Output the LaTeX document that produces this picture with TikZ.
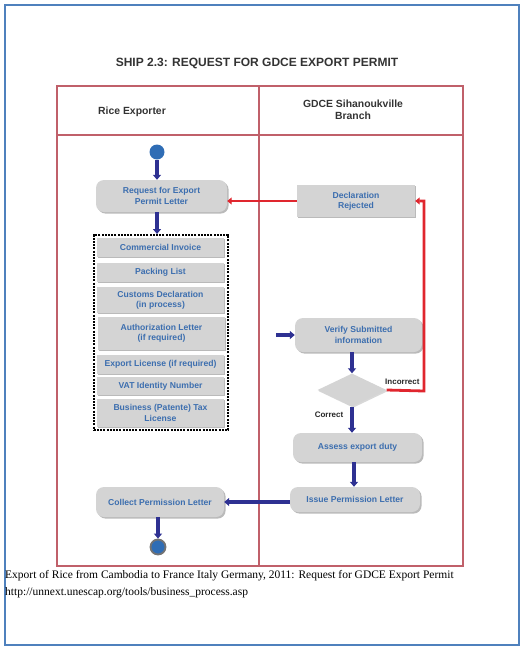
\documentclass[tikz,border=0pt]{standalone}
\usepackage{fontspec}
\setmainfont{Liberation Serif}
\newfontfamily\arial{Liberation Sans}
\usetikzlibrary{shapes.geometric,shadows,arrows.meta,fit}
\definecolor{frameblue}{HTML}{4F81BD}
\definecolor{lanered}{HTML}{C0606A}
\definecolor{boxgray}{HTML}{D4D4D4}
\definecolor{txtblue}{HTML}{3C6EAF}
\definecolor{navy}{HTML}{2E3192}
\definecolor{flowred}{HTML}{E0262E}
\definecolor{dotblue}{HTML}{2F6DB5}
\tikzset{
  x=1pt, y=-1pt,
  boxtext/.style={font=\arial\bfseries\fontsize{8.6}{10.2}\selectfont, text=txtblue, align=center},
  rbox/.style={boxtext, fill=boxgray, rounded corners=8pt, inner sep=1pt,
    drop shadow={shadow xshift=1.6pt, shadow yshift=-1.6pt, fill=black!45, opacity=0.6}},
  sbox/.style={boxtext, fill=boxgray, inner sep=1pt,
    drop shadow={shadow xshift=1.3pt, shadow yshift=-1.3pt, fill=black!45, opacity=0.6}},
  navyarrow/.style={draw=navy, line width=3.4pt, -{Triangle[width=8pt,length=5pt]}},
  redarrow/.style={draw=flowred, line width=2.8pt, -{Triangle[width=7pt,length=4.5pt]}},
  lane/.style={draw=lanered, line width=2pt},
  lbl/.style={font=\arial\bfseries\fontsize{8}{9}\selectfont, text=black!85, inner sep=0pt},
  head/.style={font=\arial\bfseries\fontsize{10.4}{12.4}\selectfont, text=black!80, align=center}
}
\begin{document}
\begin{tikzpicture}
\useasboundingbox (0,0) rectangle (526,649);
% outer frame
\draw[frameblue, line width=2.6pt] (5,5) rectangle (519,645);
% title
\node[font=\arial\bfseries\fontsize{12}{14}\selectfont, text=black!80] (title) at (257,63) {SHIP 2.3: REQUEST FOR GDCE EXPORT PERMIT};
% swimlanes
\draw[lane] (57,86) rectangle (463,566);
\draw[lane] (57,135) -- (463,135);
\draw[lane] (259,86) -- (259,566);
\node[head] (h1) at (132,112) {Rice Exporter};
\node[head] (h2) at (353,110) {GDCE Sihanoukville\\Branch};
% start
\node[circle, fill=dotblue, minimum size=15pt, inner sep=0pt] (start) at (157,152) {};
% left lane boxes
\node[rbox, minimum width=131pt, minimum height=32pt] (req) at (161.5,196) {Request for Export\\Permit Letter};
\node[sbox, minimum width=127pt, minimum height=19pt] (inv) at (160.5,247.5) {Commercial Invoice};
\node[sbox, minimum width=127pt, minimum height=19pt] (pack) at (160.5,272.5) {Packing List};
\node[sbox, minimum width=127pt, minimum height=26pt] (cust) at (160.5,300) {Customs Declaration\\(in process)};
\node[sbox, minimum width=127pt, minimum height=33pt] (auth) at (161.5,333.5) {Authorization Letter\\(if required)};
\node[sbox, minimum width=127pt, minimum height=19pt] (lic) at (160.5,364.5) {Export License (if required)};
\node[sbox, minimum width=127pt, minimum height=18pt] (vat) at (160.5,386) {VAT Identity Number};
\node[sbox, minimum width=127pt, minimum height=28pt] (bus) at (160.5,413) {Business (Patente) Tax\\License};
\node[draw=black, dash pattern=on 2pt off 1.2pt, line width=1.6pt, fit=(inv)(bus)(auth), inner sep=3pt] (docs) {};
\node[rbox, minimum width=128pt, minimum height=30pt] (col) at (160,502) {Collect Permission Letter};
\node[circle, fill=dotblue, draw=black!55, line width=1.8pt, minimum size=15pt, inner sep=0pt] (end) at (158,547) {};
% right lane
\node[sbox, minimum width=118pt, minimum height=32pt] (rej) at (356,201) {Declaration\\Rejected};
\node[rbox, minimum width=127pt, minimum height=34pt] (ver) at (358.5,335) {Verify Submitted\\information};
\node[diamond, fill=boxgray, minimum width=69pt, minimum height=33pt, aspect=2.1, inner sep=0pt,
  drop shadow={shadow xshift=1.2pt, shadow yshift=-1.2pt, fill=black!30, opacity=0.5}] (dia) at (352,390) {};
\node[rbox, minimum width=129pt, minimum height=29pt] (ass) at (357.5,447.5) {Assess export duty};
\node[rbox, minimum width=130pt, minimum height=25pt] (iss) at (355,499.5) {Issue Permission Letter};
\node[lbl, anchor=west] (inc) at (385,382) {Incorrect};
\node[lbl] (cor) at (329,415) {Correct};
\coordinate (vin) at (276,335);
\coordinate (loop) at (424,391);
% connectors
\draw[navyarrow] (start.south) -- (start.south |- req.north);
\draw[navyarrow] (req.south -| start) -- (docs.north -| start);
\draw[redarrow] (rej.west) -- (rej.west -| req.east);
\draw[redarrow] (dia.east) -- (loop) |- (rej.east);
\draw[navyarrow] (vin) -- (ver.west);
\draw[navyarrow] (ver.south -| dia) -- (dia.north);
\draw[navyarrow] (dia.south) -- (dia.south |- ass.north);
\draw[navyarrow] (ass.south -| 354,0) -- (iss.north -| 354,0);
\draw[navyarrow] (iss.west |- col.east) -- (col.east);
\draw[navyarrow] (col.south -| end) -- (end.north);
% caption
\node[anchor=west, font=\fontsize{11.5}{13}\selectfont, inner sep=0pt] (cap1) at (5,576) {Export of Rice from Cambodia to France Italy Germany, 2011: Request for GDCE Export Permit};
\node[anchor=west, font=\fontsize{11.5}{13}\selectfont, inner sep=0pt] (cap2) at (5,593) {http://unnext.unescap.org/tools/business\_process.asp};
\end{tikzpicture}
\end{document}
